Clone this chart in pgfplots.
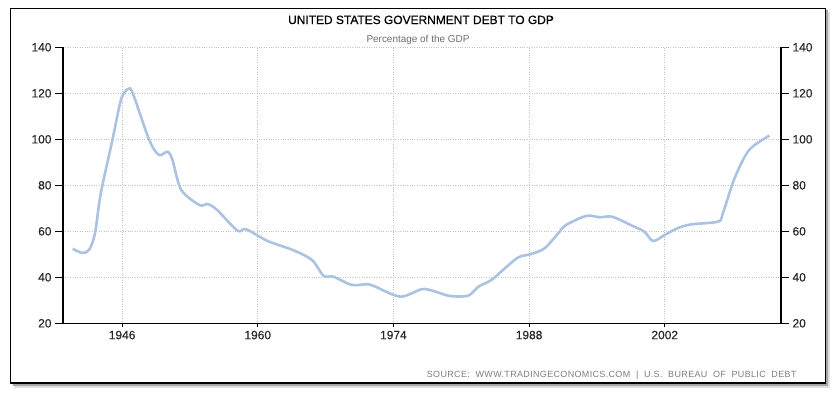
\documentclass[border=0pt]{standalone}
\usepackage{fontspec}
\setmainfont{Liberation Sans}
\newfontfamily\heavyfont[FakeBold=0.6]{Liberation Sans}
\newfontfamily\tickfont[FakeBold=0.35]{Liberation Sans}
\usepackage{pgfplots}
\pgfplotsset{compat=1.18}
\definecolor{lineblue}{RGB}{172,194,226}
\definecolor{gridgray}{RGB}{195,195,195}
\definecolor{labgray}{RGB}{40,40,40}
\definecolor{srcgray}{RGB}{125,125,135}
\definecolor{subgray}{RGB}{110,110,110}
\pgfplotsset{
  common/.style={
    scale only axis, width=718bp, height=276bp,
    at={(63bp,71.7bp)}, anchor=south west,
    xmin=1939.9, xmax=2014, ymin=20, ymax=140,
    axis line style={black, line width=1.2bp},
    tick align=outside,
    tick style={black, line width=1bp},
    ticklabel style={font=\tickfont\fontsize{12}{12}\selectfont, text=labgray},
    /pgf/number format/assume math mode=true,
  }
}
\begin{document}
\begin{tikzpicture}[x=1bp,y=1bp]
\path[use as bounding box] (0,0) rectangle (836,395);
% frame with shadow
\fill[black!12] (14,7.5) rectangle (829.5,383);
\fill[black!35] (12.5,9.5) rectangle (827.5,384.5);
\fill[white] (10.5,12) rectangle (825.5,386.5);
\draw[black, line width=1.6bp] (10.5,12) rectangle (825.5,386.5);
% titles
\node[anchor=base, font=\heavyfont\fontsize{12}{12}\selectfont, text=black] at (421,371) {UNITED STATES GOVERNMENT DEBT TO GDP};
\node[anchor=base, font=\fontsize{10}{10}\selectfont, text=subgray] at (418,353) {Percentage of the GDP};
\node[anchor=base east, font=\fontsize{9}{9}\selectfont\addfontfeature{LetterSpace=4}, text=srcgray] at (800,18) {SOURCE:\ \ WWW.TRADINGECONOMICS.COM\ \ |\ \ U.S.\ \ BUREAU\ \ OF\ \ PUBLIC\ \ DEBT};
% main axis: grid, curve, x ticks
\begin{axis}[common,
  axis x line*=bottom, axis y line*=left,
  xtick={1946,1960,1974,1988,2002},
  xticklabels={1946,1960,1974,1988,2002},
  ytick={20,40,...,140}, yticklabels={},
  ytick style={draw=none},
  major tick length=4bp,
  grid=major,
  major grid style={gridgray, dotted, line width=0.8bp},
]
\addplot[lineblue, line width=2.6bp, smooth, tension=0.5] coordinates {
(1940.9,52.4) (1941.9,50.6) (1942.6,52.0) (1943.2,59.1) (1943.8,76.5)
(1945.0,99.7) (1945.9,117.4) (1946.6,121.8) (1947.1,120.0) (1948.8,99.7)
(1949.8,93.2) (1950.7,94.6) (1951.2,91.0) (1952.1,78.0) (1954.0,71.4)
(1954.8,71.9) (1955.8,69.3) (1957.9,60.3) (1958.8,60.9) (1961.0,55.8)
(1963.6,51.9) (1965.6,47.5) (1966.8,40.6) (1967.8,40.3) (1969.7,36.7)
(1971.3,37.0) (1972.1,36.0) (1974.7,31.6) (1976.9,34.8) (1978.0,34.2)
(1979.8,31.9) (1981.7,32.0) (1982.8,36.0) (1984.1,38.8) (1985.5,43.9)
(1986.9,48.7) (1988.2,50.1) (1989.6,52.6) (1991.0,59.1) (1991.8,62.7)
(1993.9,66.7) (1995.3,66.1) (1996.6,66.3) (1998.7,62.3) (1999.9,59.8)
(2000.8,55.8) (2002.0,58.4) (2003.3,61.3) (2004.7,63.0) (2007.5,64.2)
(2008.0,67.8) (2009.2,83.0) (2010.7,95.3) (2012.8,101.6)
};
\end{axis}
% left y labels
\begin{axis}[common,
  axis y line*=left, axis x line=none,
  xtick=\empty, ytick={20,40,...,140},
  major tick length=8bp,
]
\end{axis}
% right y labels
\begin{axis}[common,
  axis y line*=right, axis x line=none,
  xtick=\empty, ytick={20,40,...,140},
  major tick length=8bp,
]
\end{axis}
\end{tikzpicture}
\end{document}
